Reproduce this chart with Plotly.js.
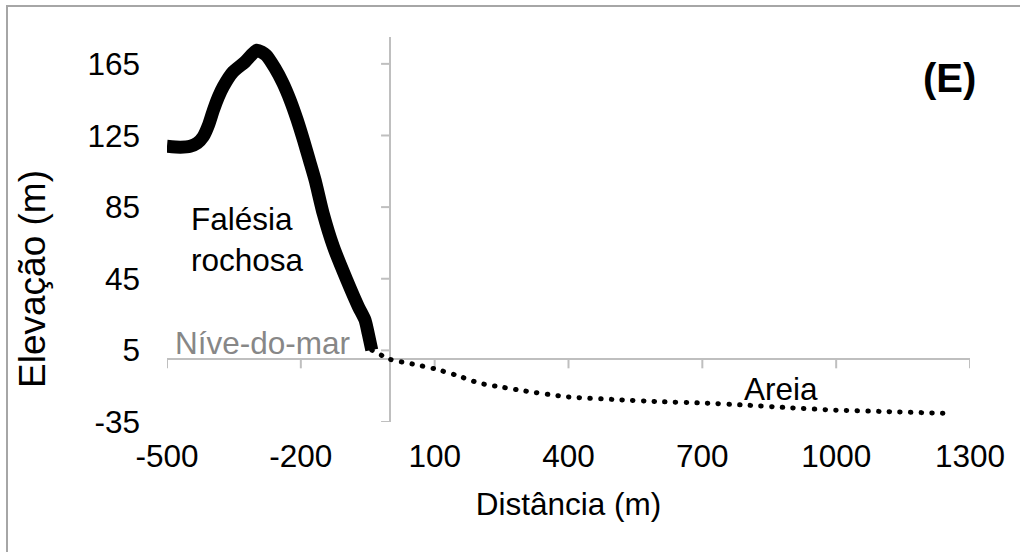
<!DOCTYPE html>
<html>
<head>
<meta charset="utf-8">
<script src="https://cdn.plot.ly/plotly-3.0.1.min.js"></script>
<style>
  html, body { margin: 0; padding: 0; background: #fff; overflow: hidden; }
  #wrap { position: relative; width: 1020px; height: 552px; }
  #chart { position: absolute; left: 0; top: 0; width: 1020px; height: 552px; }
  #frame { position: absolute; left: 6px; top: 5px; width: 1100px; height: 600px;
           border-left: 2px solid #a6a6a6; border-top: 2px solid #a6a6a6; pointer-events: none; }
  .scatterlayer .trace:nth-child(2) .js-line { stroke-linecap: round; }
</style>
</head>
<body>
<div id="wrap"><div id="chart"></div><div id="frame"></div></div>
<script>
// ---- data ----
const cliffX = [-500, -470, -448, -432, -419, -407, -396, -385, -374, -352, -325, -298.5, -278, -258, -240, -224, -208, -194, -181, -168, -150, -127, -97, -71, -56, -49, -41];
const cliffY = [119, 118.5, 119, 120.8, 124.3, 130.8, 139.2, 146.4, 152.2, 160.5, 166.1, 172.6, 169.9, 162.6, 154.2, 144.8, 133.6, 122.4, 111.3, 100.1, 81.5, 62.9, 44.3, 29.4, 21.9, 14.5, 5.2];
const sandX = [-41, 0, 50, 100, 150, 200, 250, 300, 400, 500, 600, 700, 800, 900, 1000, 1100, 1250];
const sandY = [5.2, 0, -2.6, -5.3, -9, -13.3, -15.5, -17.6, -21, -22.4, -23.6, -24.4, -25.6, -27.1, -28.4, -29.1, -30.2];
const xTickVals = [-500, -200, 100, 400, 700, 1000, 1300];
const xTickText = ['-500', '-200', '100', '400', '700', '1000', '1300'];
const yTickVals = [-35, 5, 45, 85, 125, 165];
const yTickText = ['-35', '5', '45', '85', '125', '165'];
const labels = { cliff: 'Falésia<br>rochosa', sea: 'Níve-do-mar', sand: 'Areia', panel: '(E)' };
const xTitle = 'Distância (m)';
const yTitle = 'Elevação (m)';

// ---- style ----
const FONT = '"Liberation Sans", Arial, sans-serif';
const axisColor = '#bfbfbf';
const FS = 31.5;

const traces = [
  { x: cliffX, y: cliffY, mode: 'lines', name: 'Falésia rochosa',
    line: { color: '#000', width: 13, shape: 'spline', smoothing: 0.6 }, hoverinfo: 'x+y' },
  { x: sandX, y: sandY, mode: 'lines', name: 'Areia',
    line: { color: '#000', width: 5, shape: 'spline', smoothing: 0.6, dash: '0.5px,10.2px' }, hoverinfo: 'x+y' }
];

const shapes = [];
xTickVals.forEach(v => shapes.push({ type: 'line', xref: 'x', yref: 'y', ysizemode: 'pixel', yanchor: 0,
  x0: v, x1: v, y0: 0, y1: -9, layer: 'below', line: { color: axisColor, width: 2 } }));
yTickVals.forEach(v => shapes.push({ type: 'line', xref: 'x', yref: 'y', xsizemode: 'pixel', xanchor: 0,
  x0: -9, x1: 0, y0: v, y1: v, layer: 'below', line: { color: axisColor, width: 2 } }));

const layout = {
  width: 1020, height: 552,
  margin: { l: 167, r: 50, t: 37, b: 130 },
  paper_bgcolor: '#fff', plot_bgcolor: '#fff',
  showlegend: false,
  font: { family: FONT, size: FS, color: '#000' },
  xaxis: {
    range: [-500, 1300], tickmode: 'array', tickvals: xTickVals, ticktext: xTickText,
    showgrid: false, showline: false, ticks: '', zeroline: true, zerolinecolor: axisColor, zerolinewidth: 2,
    tickfont: { family: FONT, size: FS, color: '#000' }, ticklabelstandoff: 12,
    title: { text: xTitle, font: { family: FONT, size: FS, color: '#000' }, standoff: 20 }
  },
  yaxis: {
    range: [-35, 180], tickmode: 'array', tickvals: yTickVals, ticktext: yTickText,
    showgrid: false, showline: false, ticks: '', zeroline: true, zerolinecolor: axisColor, zerolinewidth: 2,
    tickfont: { family: FONT, size: FS, color: '#000' }, ticklabelstandoff: 26
  },
  shapes: shapes,
  annotations: [
    { text: yTitle, xref: 'paper', yref: 'paper', x: (32 - 167) / 803, y: (422 - 279) / 385,
      xanchor: 'center', yanchor: 'middle', textangle: -90, showarrow: false,
      font: { family: FONT, size: 37, color: '#000' } },
    { text: labels.cliff, xref: 'paper', yref: 'paper', x: 0.028, y: 0.473, xanchor: 'left', yanchor: 'middle',
      align: 'left', showarrow: false, font: { family: FONT, size: FS, color: '#000' } },
    { text: labels.sea, xref: 'paper', yref: 'paper', x: 0.008, y: 0.205, xanchor: 'left', yanchor: 'middle',
      showarrow: false, font: { family: FONT, size: FS, color: '#878787' } },
    { text: labels.sand, xref: 'paper', yref: 'paper', x: 0.716, y: 0.0858, xanchor: 'left', yanchor: 'middle',
      showarrow: false, font: { family: FONT, size: FS, color: '#000' } },
    { text: '<b>' + labels.panel + '</b>', xref: 'paper', yref: 'paper', x: 0.974, y: 0.894, xanchor: 'center', yanchor: 'middle',
      showarrow: false, font: { family: FONT, size: 40, color: '#000' } }
  ]
};

Plotly.newPlot('chart', traces, layout, { staticPlot: true, displayModeBar: false });
</script>
</body>
</html>
